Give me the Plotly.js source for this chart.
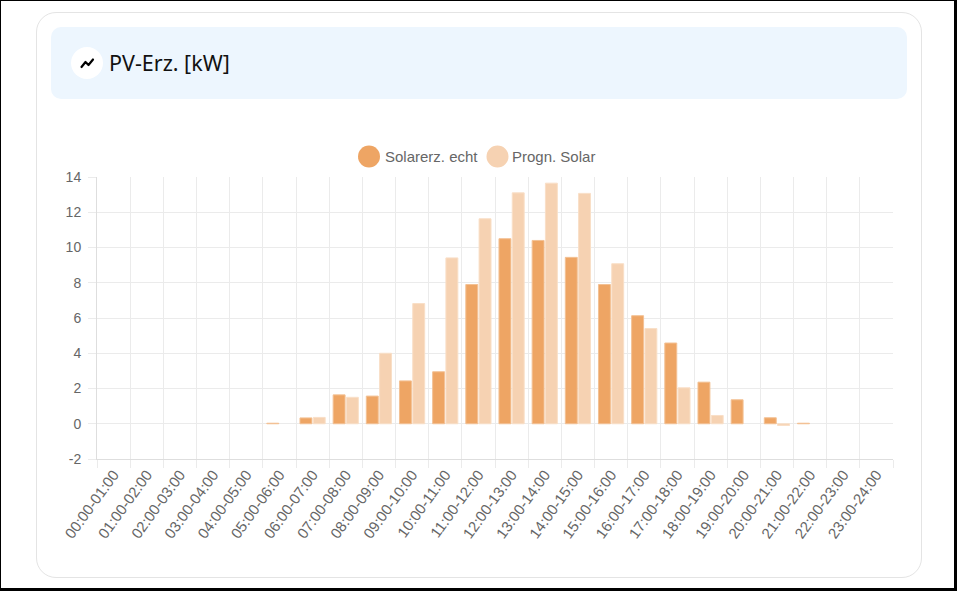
<!DOCTYPE html>
<html>
<head>
<meta charset="utf-8">
<script src="https://cdn.plot.ly/plotly-3.0.1.min.js"></script>
<style>
  html, body { margin: 0; padding: 0; background: #fff; }
  #frame {
    position: absolute; left: 0; top: 0; width: 953px; height: 587px;
    border-left: 1px solid #000; border-top: 1px solid #000;
    border-right: 3px solid #000; border-bottom: 3px solid #000;
    overflow: hidden; background: #fff;
  }
  .card {
    position: absolute; left: 35px; top: 11px; width: 884px; height: 564px;
    border: 1px solid #e4e4e4; border-radius: 20px; background: #fff;
  }
  .card-head {
    position: absolute; left: 50px; top: 26px; width: 856px; height: 72px;
    background: #edf6fe; border-radius: 10px;
  }
  .icon {
    position: absolute; left: 70px; top: 46px; width: 32px; height: 32px;
    border-radius: 50%; background: #fff;
  }
  .title {
    position: absolute; left: 108px; top: 47px;
    font-family: "Noto Sans", "Open Sans", sans-serif; font-size: 21.5px; color: #111;
    line-height: 30px;
  }
  #chart { position: absolute; left: -1px; top: -1px; width: 957px; height: 591px; }
</style>
</head>
<body>
<div id="frame">
  <div class="card"></div>
  <div class="card-head"></div>
  <div class="icon">
    <svg width="32" height="32" viewBox="0 0 32 32">
      <polyline points="10.5,20 14.5,15 17.5,18 22,12.5" fill="none" stroke="#000" stroke-width="2.2" stroke-linecap="round" stroke-linejoin="round"/>
    </svg>
  </div>
  <div class="title">PV-Erz. [kW]</div>
  <div id="chart"></div>
</div>
<script>
// hourly slots
let hours = [
  "00:00-01:00", "01:00-02:00", "02:00-03:00", "03:00-04:00", "04:00-05:00", "05:00-06:00",
  "06:00-07:00", "07:00-08:00", "08:00-09:00", "09:00-10:00", "10:00-11:00", "11:00-12:00",
  "12:00-13:00", "13:00-14:00", "14:00-15:00", "15:00-16:00", "16:00-17:00", "17:00-18:00",
  "18:00-19:00", "19:00-20:00", "20:00-21:00", "21:00-22:00", "22:00-23:00", "23:00-24:00"
];

// kW values
let solarEcht = [0, 0, 0, 0, 0, 0.03, 0.33, 1.64, 1.57, 2.43, 2.95, 7.9,
  10.5, 10.4, 9.44, 7.9, 6.13, 4.58, 2.36, 1.36, 0.34, 0.03, 0, 0];
let prognSolar = [0, 0, 0, 0, 0, 0, 0.36, 1.5, 4.0, 6.82, 9.41, 11.63,
  13.1, 13.65, 13.07, 9.08, 5.4, 2.04, 0.47, 0, -0.1, 0, 0, 0];

let seriesNames = ["Solarerz. echt", "Progn. Solar"];
let yTicks = [-2, 0, 2, 4, 6, 8, 10, 12, 14];

let darkOrange = 'rgb(238, 165, 100)';
let lightOrange = 'rgb(246, 210, 178)';

// no outline on empty bars, otherwise plotly draws a hairline at zero
function edge(vals) { return vals.map(function (v) { return v === 0 ? 0 : 1; }); }

let trace1 = {
  x: hours,
  y: solarEcht,
  type: 'bar',
  name: seriesNames[0],
  marker: { color: darkOrange, line: { color: 'rgb(243, 193, 148)', width: edge(solarEcht) } },
  hoverinfo: 'x+y'
};

let trace2 = {
  x: hours,
  y: prognSolar,
  type: 'bar',
  name: seriesNames[1],
  marker: { color: lightOrange, line: { color: 'rgb(249, 223, 199)', width: edge(prognSolar) } },
  hoverinfo: 'x+y'
};

// plot area in pixels
let W = 957, H = 591;
let ml = 97, mr = 64, mt = 177, mb = 132;
let pw = W - ml - mr, ph = H - mt - mb;
function px(x) { return (x - ml) / pw; }
function py(y) { return (H - mb - y) / ph; }

// legend drawn by hand, Chart.js style with round point markers
let legendItems = [
  { cx: 369, tx: 383, color: darkOrange },
  { cx: 497.5, tx: 510, color: lightOrange }
];
let shapes = [];
let annotations = [];
legendItems.forEach(function (item, i) {
  shapes.push({
    type: 'circle', xref: 'paper', yref: 'paper',
    xsizemode: 'pixel', ysizemode: 'pixel',
    xanchor: px(item.cx), yanchor: py(156.5),
    x0: -11, x1: 11, y0: -11, y1: 11,
    fillcolor: item.color, line: { width: 0 }
  });
  annotations.push({
    xref: 'paper', yref: 'paper', x: px(item.tx), y: py(156.5),
    xanchor: 'left', yanchor: 'middle', showarrow: false,
    text: seriesNames[i],
    font: { family: 'Liberation Sans, Arial, sans-serif', size: 15, color: '#666' }
  });
});

let layout = {
  width: W,
  height: H,
  margin: { l: ml, r: mr, t: mt, b: mb, pad: 0 },
  paper_bgcolor: 'rgba(0,0,0,0)',
  plot_bgcolor: 'rgba(0,0,0,0)',
  font: { family: 'Liberation Sans, Arial, sans-serif', size: 14, color: '#666' },
  barmode: 'group',
  bargap: 0.2,
  bargroupgap: 0.1,
  showlegend: false,
  xaxis: {
    type: 'category',
    tickson: 'boundaries',
    showgrid: true,
    gridcolor: '#ebebeb',
    ticks: 'outside',
    ticklen: 8,
    tickcolor: '#ebebeb',
    tickangle: -54,
    tickfont: { size: 15, color: '#666' },
    showline: true,
    linecolor: '#dedede',
    fixedrange: true
  },
  yaxis: {
    range: [-2, 14],
    tickvals: yTicks,
    ticktext: yTicks.map(String),
    showgrid: true,
    gridcolor: '#ebebeb',
    zeroline: false,
    ticks: 'outside',
    ticklen: 8,
    tickcolor: '#ebebeb',
    tickfont: { size: 14, color: '#666' },
    ticklabelstandoff: 4,
    showline: true,
    linecolor: '#dedede',
    fixedrange: true
  },
  shapes: shapes,
  annotations: annotations
};

Plotly.newPlot('chart', [trace1, trace2], layout, { displayModeBar: false, responsive: false });
</script>
</body>
</html>
